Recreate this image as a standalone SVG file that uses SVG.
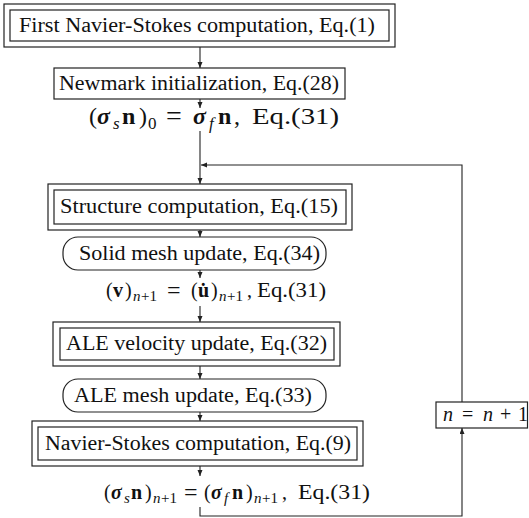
<svg xmlns="http://www.w3.org/2000/svg" width="529" height="518" viewBox="0 0 529 518">
  <defs>
    <marker id="arr" markerUnits="userSpaceOnUse" markerWidth="8" markerHeight="6" refX="6" refY="2.5" orient="auto">
      <path d="M0,0 L6,2.5 L0,5 z" fill="#222"/>
    </marker>
    <style>
      .box { fill: none; stroke: #222; stroke-width: 1.2; }
      .con { fill: none; stroke: #222; stroke-width: 1.1; }
      .t { font-family: "Liberation Serif", "DejaVu Serif", serif; font-size: 20px; fill: #111; }
      .big { font-size: 24px; }
      .i { font-style: italic; }
      .b { font-weight: bold; }
      .bi { font-weight: bold; font-style: italic; }
      .s { font-size: 15px; }
      .bs { font-size: 17px; }
      .eq { font-size: 24px; }
      .beq { font-size: 28px; }
    </style>
  </defs>
  <rect width="529" height="518" fill="#fff"/>

  <!-- connectors -->
  <g id="connectors">
    <path class="con" d="M200,47 V68" marker-end="url(#arr)"/>
    <path class="con" d="M200,99 V108" marker-end="url(#arr)"/>
    <path class="con" d="M200,131 V184" marker-end="url(#arr)"/>
    <path class="con" d="M462,402 V165 H201" marker-end="url(#arr)"/>
    <path class="con" d="M200,230 V237" marker-end="url(#arr)"/>
    <path class="con" d="M200,270 V278" marker-end="url(#arr)"/>
    <path class="con" d="M200,306 V322" marker-end="url(#arr)"/>
    <path class="con" d="M200,366 V379" marker-end="url(#arr)"/>
    <path class="con" d="M200,412 V421" marker-end="url(#arr)"/>
    <path class="con" d="M200,466 V476" marker-end="url(#arr)"/>
    <path class="con" d="M200,507 V516 H462 V428" marker-end="url(#arr)"/>
  </g>

  <!-- first flow solve -->
  <g id="first-ns">
    <rect class="box" x="4" y="4" width="391" height="43"/>
    <rect class="box" x="10" y="10" width="379" height="31"/>
    <text class="t" x="19" y="32" textLength="356" lengthAdjust="spacingAndGlyphs">First Navier-Stokes computation, Eq.(1)</text>
  </g>

  <g id="newmark">
    <rect class="box" x="54" y="68" width="291" height="31"/>
    <text class="t" x="59" y="90" textLength="280" lengthAdjust="spacingAndGlyphs">Newmark initialization, Eq.(28)</text>
  </g>

  <!-- initial traction condition -->
  <g id="init-stress">
    <text class="t big"><tspan x="89" y="124">(</tspan><tspan class="bi" x="97" y="124">σ</tspan><tspan class="bs i" x="113" y="129">s</tspan><tspan class="b" x="122" y="124">n</tspan><tspan x="139" y="124">)</tspan><tspan class="bs" x="148" y="129">0</tspan><tspan class="beq" x="166" y="125">=</tspan><tspan class="bi" x="193" y="124">σ</tspan><tspan class="bs i" x="209" y="129">f</tspan><tspan class="b" x="218" y="124">n</tspan><tspan x="234" y="124">,</tspan></text>
    <text class="t big" x="252" y="124" textLength="87" lengthAdjust="spacingAndGlyphs">Eq.(31)</text>
  </g>

  <g id="structure">
    <rect class="box" x="48" y="184" width="304" height="46"/>
    <rect class="box" x="54" y="190" width="292" height="34"/>
    <text class="t" x="60" y="213" textLength="278" lengthAdjust="spacingAndGlyphs">Structure computation, Eq.(15)</text>
  </g>

  <g id="solid-mesh">
    <rect class="box" x="63" y="237" width="263" height="33" rx="15" ry="15"/>
    <text class="t" x="79" y="260" textLength="241" lengthAdjust="spacingAndGlyphs">Solid mesh update, Eq.(34)</text>
  </g>

  <!-- interface velocity condition -->
  <g id="velocity-cond">
    <text class="t"><tspan x="106" y="297">(</tspan><tspan class="b" x="113" y="297">v</tspan><tspan x="125" y="297">)</tspan><tspan class="s i" x="133" y="301">n</tspan><tspan class="s" x="141" y="301">+1</tspan><tspan class="eq" x="167" y="298">=</tspan><tspan x="191" y="297">(</tspan><tspan class="b" x="198" y="297">u&#775;</tspan><tspan x="211" y="297">)</tspan><tspan class="s i" x="219" y="301">n</tspan><tspan class="s" x="227" y="301">+1</tspan><tspan x="247" y="297">,</tspan></text>
    <text class="t" x="257" y="297" textLength="69" lengthAdjust="spacingAndGlyphs">Eq.(31)</text>
  </g>

  <g id="ale-velocity">
    <rect class="box" x="53" y="322" width="287" height="44"/>
    <rect class="box" x="60" y="328" width="274" height="32"/>
    <text class="t" x="66" y="350" textLength="261" lengthAdjust="spacingAndGlyphs">ALE velocity update, Eq.(32)</text>
  </g>

  <g id="ale-mesh">
    <rect class="box" x="63" y="379" width="263" height="33" rx="15" ry="15"/>
    <text class="t" x="74" y="402" textLength="238" lengthAdjust="spacingAndGlyphs">ALE mesh update, Eq.(33)</text>
  </g>

  <g id="ns">
    <rect class="box" x="32" y="421" width="331" height="45"/>
    <rect class="box" x="38" y="427" width="319" height="33"/>
    <text class="t" x="45" y="450" textLength="306" lengthAdjust="spacingAndGlyphs">Navier-Stokes computation, Eq.(9)</text>
  </g>

  <!-- traction equilibrium at the new step -->
  <g id="stress-cond">
    <text class="t"><tspan x="104" y="499">(</tspan><tspan class="bi" x="111" y="499">σ</tspan><tspan class="s i" x="124" y="503">s</tspan><tspan class="b" x="131" y="499">n</tspan><tspan x="145" y="499">)</tspan><tspan class="s i" x="153" y="503">n</tspan><tspan class="s" x="161" y="503">+1</tspan><tspan class="eq" x="184" y="500">=</tspan><tspan x="204" y="499">(</tspan><tspan class="bi" x="211" y="499">σ</tspan><tspan class="s i" x="224" y="503">f</tspan><tspan class="b" x="232" y="499">n</tspan><tspan x="246" y="499">)</tspan><tspan class="s i" x="254" y="503">n</tspan><tspan class="s" x="262" y="503">+1</tspan><tspan x="282" y="499">,</tspan></text>
    <text class="t" x="298" y="499" textLength="72" lengthAdjust="spacingAndGlyphs">Eq.(31)</text>
  </g>

  <g id="increment">
    <rect class="box" x="436" y="402" width="91.5" height="26"/>
    <text class="t" y="421"><tspan class="i" x="443">n</tspan><tspan x="462">=</tspan><tspan class="i" x="483">n</tspan><tspan x="500">+</tspan><tspan x="518">1</tspan></text>
  </g>
</svg>
